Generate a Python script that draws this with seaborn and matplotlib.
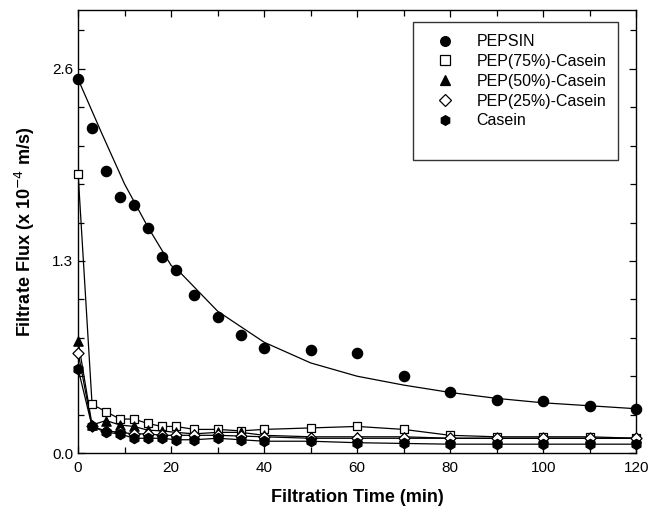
import numpy as np
import pandas as pd
import matplotlib
matplotlib.use("Agg")
import matplotlib.pyplot as plt
import seaborn as sns
from matplotlib.lines import Line2D

# ---- data ----
time = [0, 3, 6, 9, 12, 15, 18, 21, 25, 30, 35, 40, 50, 60, 70, 80, 90, 100, 110, 120]
pepsin = [2.53, 2.20, 1.91, 1.73, 1.68, 1.52, 1.33, 1.24, 1.07, 0.92, 0.80, 0.71, 0.70, 0.68, 0.52, 0.41, 0.36, 0.35, 0.32, 0.30]
pep75 = [1.89, 0.33, 0.28, 0.23, 0.23, 0.20, 0.18, 0.18, 0.16, 0.16, 0.15, 0.16, 0.17, 0.18, 0.16, 0.12, 0.11, 0.11, 0.11, 0.10]
pep50 = [0.76, 0.19, 0.22, 0.19, 0.18, 0.155, 0.15, 0.14, 0.13, 0.14, 0.14, 0.12, 0.11, 0.11, 0.11, 0.10, 0.10, 0.10, 0.10, 0.10]
pep25 = [0.68, 0.18, 0.15, 0.14, 0.13, 0.13, 0.12, 0.12, 0.12, 0.12, 0.115, 0.11, 0.10, 0.10, 0.10, 0.10, 0.10, 0.10, 0.10, 0.10]
casein = [0.57, 0.18, 0.14, 0.13, 0.10, 0.10, 0.10, 0.09, 0.09, 0.10, 0.09, 0.08, 0.08, 0.07, 0.065, 0.06, 0.06, 0.06, 0.06, 0.06]

# fitted curve for PEPSIN
fit_time = [0, 5, 10, 15, 20, 22, 30, 40, 50, 60, 70, 80, 90, 100, 110, 120]
fit_pepsin = [2.53, 2.17, 1.82, 1.53, 1.27, 1.22, 0.96, 0.75, 0.61, 0.52, 0.46, 0.41, 0.37, 0.34, 0.32, 0.30]

labels = ["PEPSIN", "PEP(75%)-Casein", "PEP(50%)-Casein", "PEP(25%)-Casein", "Casein"]
series = [pepsin, pep75, pep50, pep25, casein]
markers = ["o", "s", "^", "D", "h"]
faces = ["black", "white", "black", "white", "black"]
sizes = [55, 40, 45, 32, 55]

sns.set_style("ticks")
plt.rcParams["font.family"] = ["Liberation Sans", "DejaVu Sans"]
plt.rcParams["text.color"] = "black"
plt.rcParams["axes.labelcolor"] = "black"
plt.rcParams["xtick.color"] = "black"
plt.rcParams["ytick.color"] = "black"

fig = plt.figure(figsize=(6.62, 5.16), dpi=100)
ax = fig.add_axes([0.118, 0.122, 0.843, 0.859])

# lines
fit_df = pd.DataFrame({"t": fit_time, "y": fit_pepsin})
sns.lineplot(data=fit_df, x="t", y="y", ax=ax, color="black", lw=0.9, sort=False, zorder=2)
for lab, s in zip(labels[1:], series[1:]):
    d = pd.DataFrame({"t": time, "y": s})
    sns.lineplot(data=d, x="t", y="y", ax=ax, color="black", lw=0.9, sort=False, zorder=2)

# markers
order = [1, 2, 3, 4, 0]
for i in order:
    d = pd.DataFrame({"t": time, "y": series[i]})
    sns.scatterplot(data=d, x="t", y="y", ax=ax, marker=markers[i], s=sizes[i],
                    facecolor=faces[i], edgecolor="black", linewidth=0.9, zorder=3 + i,
                    clip_on=False)

ax.set_xlim(0, 120)
ax.set_ylim(0, 3.0)
ax.set_xticks([0, 20, 40, 60, 80, 100, 120])
ax.set_xticks(np.arange(0, 121, 10), minor=True)
ax.set_yticks([0.0, 1.3, 2.6])
ax.set_yticklabels(["0.0", "1.3", "2.6"])
ax.set_yticks(np.arange(0, 3.0, 0.26), minor=True)
ax.tick_params(axis="both", which="both", direction="in", top=True, right=True,
               labelsize=11, width=0.9, color="black", labelcolor="black")
ax.tick_params(which="major", length=5)
ax.tick_params(which="minor", length=4)
ax.tick_params(axis="x", pad=6)
for sp in ax.spines.values():
    sp.set_linewidth(1.0)
    sp.set_color("black")

ax.set_xlabel("Filtration Time (min)", fontsize=13, fontweight="bold", labelpad=10)
ax.set_ylabel(r"Filtrate Flux (x 10$^{-4}$ m/s)", fontsize=13, fontweight="bold", labelpad=11)

handles = []
for i in range(5):
    handles.append(Line2D([], [], linestyle="none", marker=markers[i], markersize=7 if i != 3 else 6,
                          markerfacecolor=faces[i], markeredgecolor="black", markeredgewidth=0.9))
handles.append(Line2D([], [], linestyle="none"))
leg = ax.legend(handles, labels + [""], loc="upper right", bbox_to_anchor=(0.968, 0.972),
                frameon=True, fancybox=False, edgecolor="black", fontsize=11.5,
                handletextpad=0.7, labelspacing=0.3, borderpad=0.75, handlelength=2.5,
                borderaxespad=0)
leg.get_frame().set_linewidth(1.0)

fig.savefig("out.png", dpi=100)
